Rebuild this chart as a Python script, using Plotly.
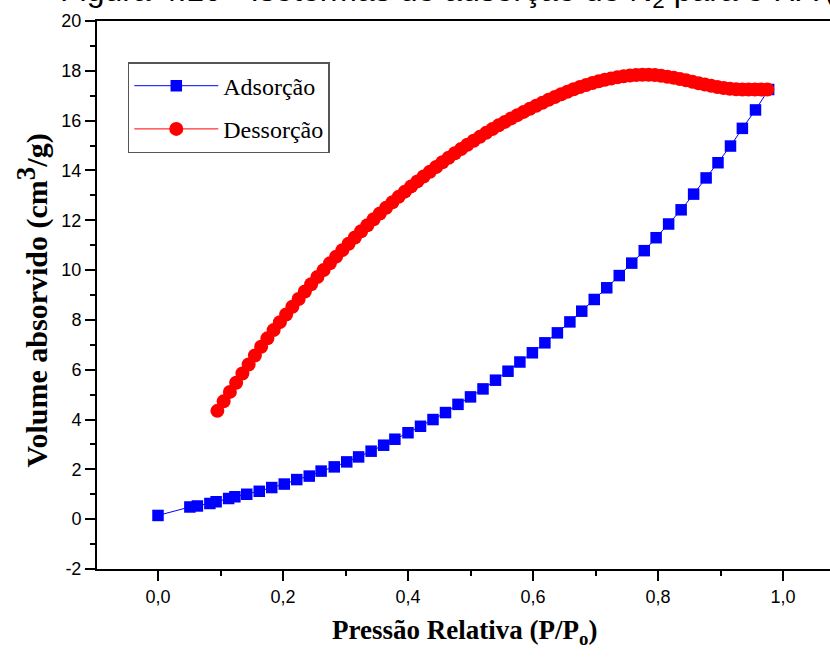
import plotly.graph_objects as go

# Adsorption branch (blue squares)
ads_x = [0.000, 0.051, 0.063, 0.083, 0.093, 0.113, 0.123, 0.142, 0.162, 0.182,
         0.202, 0.222, 0.242, 0.261, 0.282, 0.302, 0.321, 0.341, 0.361, 0.379,
         0.400, 0.420, 0.440, 0.460, 0.480, 0.500, 0.520, 0.540, 0.560, 0.579,
         0.599, 0.619, 0.639, 0.659, 0.678, 0.698, 0.718, 0.738, 0.758, 0.778,
         0.797, 0.817, 0.837, 0.857, 0.877, 0.896, 0.916, 0.935, 0.956, 0.977]
ads_y = [0.15, 0.49, 0.53, 0.63, 0.70, 0.83, 0.90, 1.00, 1.12, 1.27,
         1.41, 1.59, 1.73, 1.93, 2.10, 2.30, 2.50, 2.73, 2.97, 3.21,
         3.47, 3.73, 4.00, 4.28, 4.61, 4.91, 5.23, 5.58, 5.94, 6.31,
         6.68, 7.08, 7.48, 7.92, 8.35, 8.82, 9.29, 9.78, 10.28, 10.78,
         11.30, 11.85, 12.42, 13.05, 13.70, 14.31, 14.98, 15.69, 16.43, 17.25]

# Desorption branch (red circles)
des_x = [0.095, 0.105, 0.115, 0.125, 0.135, 0.145, 0.155, 0.165, 0.175, 0.185,
         0.195, 0.205, 0.215, 0.225, 0.235, 0.245, 0.255, 0.265, 0.275, 0.285,
         0.295, 0.305, 0.315, 0.325, 0.335, 0.345, 0.355, 0.365, 0.375, 0.385,
         0.395, 0.405, 0.415, 0.425, 0.435, 0.445, 0.455, 0.465, 0.475, 0.485,
         0.495, 0.505, 0.515, 0.525, 0.535, 0.545, 0.555, 0.565, 0.575, 0.585,
         0.595, 0.605, 0.615, 0.625, 0.635, 0.645, 0.655, 0.665, 0.675, 0.685,
         0.695, 0.705, 0.715, 0.725, 0.735, 0.745, 0.755, 0.765, 0.775, 0.785,
         0.795, 0.805, 0.815, 0.825, 0.835, 0.845, 0.855, 0.865, 0.875, 0.885,
         0.895, 0.905, 0.915, 0.925, 0.935, 0.945, 0.955, 0.965, 0.975]
des_y = [4.35, 4.73, 5.11, 5.48, 5.85, 6.21, 6.57, 6.92, 7.26, 7.59,
         7.91, 8.22, 8.53, 8.84, 9.14, 9.43, 9.72, 10.00, 10.27, 10.54,
         10.80, 11.06, 11.31, 11.56, 11.80, 12.04, 12.27, 12.50, 12.72, 12.94,
         13.15, 13.36, 13.56, 13.76, 13.95, 14.14, 14.33, 14.51, 14.69, 14.86,
         15.03, 15.19, 15.35, 15.51, 15.66, 15.81, 15.95, 16.09, 16.22, 16.35,
         16.48, 16.60, 16.72, 16.84, 16.95, 17.06, 17.16, 17.26, 17.35, 17.43,
         17.51, 17.58, 17.64, 17.69, 17.74, 17.78, 17.81, 17.83, 17.84, 17.84,
         17.83, 17.80, 17.76, 17.72, 17.67, 17.62, 17.56, 17.50, 17.45, 17.40,
         17.35, 17.31, 17.28, 17.26, 17.25, 17.25, 17.25, 17.25, 17.25]

y_ticks = [-2, 0, 2, 4, 6, 8, 10, 12, 14, 16, 18, 20]
y_tick_text = ["-2", "0", "2", "4", "6", "8", "10", "12", "14", "16", "18", "20"]

fig = go.Figure()
fig.add_trace(go.Scatter(
    x=ads_x, y=ads_y, mode="lines+markers", name="Adsorção",
    line=dict(color="#0000ff", width=1),
    marker=dict(symbol="square", size=11.5, color="#0000ff"),
    legendgroup="a",
))
fig.add_trace(go.Scatter(
    x=des_x, y=des_y, mode="lines+markers", name="Dessorção",
    line=dict(color="#ff0000", width=1),
    marker=dict(symbol="circle", size=14, color="#ff0000"),
    legendgroup="d",
))

axis_font = dict(family="Liberation Sans, Arial", size=18, color="black")
fig.update_layout(
    width=830, height=658,
    margin=dict(l=97, r=0, t=21, b=89),
    paper_bgcolor="white", plot_bgcolor="white",
    separators=",.",
    showlegend=True,
    legend=dict(
        x=0.042, y=0.925, xanchor="left", yanchor="top",
        bordercolor="#555555", borderwidth=1.5, bgcolor="white",
        font=dict(family="Liberation Serif, Times New Roman", size=24, color="black"),
        tracegroupgap=9, itemwidth=84, entrywidth=182, entrywidthmode="pixels",
    ),
    xaxis=dict(
        range=[-0.0976, 1.0752], showgrid=False, zeroline=False,
        showline=True, linecolor="black", linewidth=2, mirror=True,
        ticks="outside", ticklen=10, tickwidth=2, tickcolor="black",
        tickmode="linear", tick0=0, dtick=0.2, tickformat=".1f",
        tickfont=axis_font,
        minor=dict(ticks="outside", ticklen=5, tickwidth=1.5, tickcolor="black",
                   dtick=0.1, tick0=0, showgrid=False),
    ),
    yaxis=dict(
        range=[-2, 20], showgrid=False, zeroline=False,
        showline=True, linecolor="black", linewidth=2, mirror=False,
        ticks="outside", ticklen=10, tickwidth=2, tickcolor="black",
        tickmode="array", tickvals=y_ticks, ticktext=y_tick_text,
        tickfont=axis_font,
        minor=dict(ticks="outside", ticklen=5, tickwidth=1.5, tickcolor="black",
                   dtick=1, tick0=0, showgrid=False),
    ),
    annotations=[
        dict(text="Figura 4.10 - Isotermas de adsorção de N<sub>2</sub> para o HA (",
             xref="paper", yref="paper", x=-0.053, y=1.0107,
             xanchor="left", yanchor="bottom", showarrow=False,
             font=dict(family="Liberation Sans, Arial", size=32, color="black")),
        dict(text="<b>Volume absorvido (cm<sup><span style=\"font-size:27px\">3</span></sup>/g)</b>",
             xref="paper", yref="paper", x=-0.088, y=0.491,
             xanchor="center", yanchor="middle", textangle=-90, showarrow=False,
             font=dict(family="Liberation Serif, Times New Roman", size=30, color="black")),
        dict(text="<b>Pressão Relativa (P/P<sub>o</sub>)</b>",
             xref="paper", yref="paper", x=0.502, y=-0.115,
             xanchor="center", yanchor="middle", showarrow=False,
             font=dict(family="Liberation Serif, Times New Roman", size=27, color="black")),
    ],
)

fig.write_html("out.html")
